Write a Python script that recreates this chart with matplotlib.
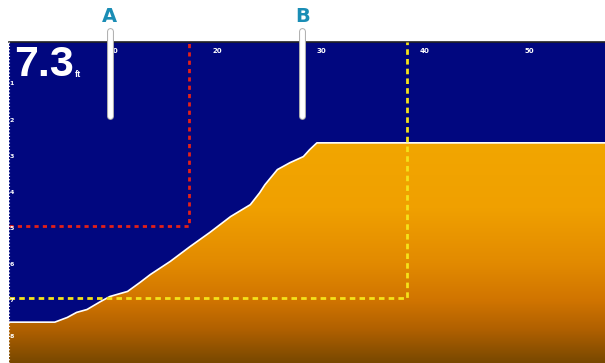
import matplotlib
matplotlib.use("Agg")
import matplotlib.pyplot as plt
import matplotlib.patheffects as pe
from matplotlib.colors import LinearSegmentedColormap
import numpy as np

# seabed profile (distance, depth in ft)
profile_x = [0, 4.4, 5.6, 6.5, 7.5, 8.8, 9.7, 11.4, 12.6, 13.6, 15.5, 17.4,
             19.3, 21.3, 23.2, 24.1, 24.6, 25.8, 27.0, 28.3, 28.9, 29.6, 58]
profile_depth = [7.67, 7.67, 7.54, 7.40, 7.32, 7.10, 6.96, 6.82, 6.57, 6.35,
                 5.99, 5.58, 5.19, 4.75, 4.42, 4.09, 3.87, 3.45, 3.26, 3.09,
                 2.90, 2.71, 2.71]

x_ticks = [10, 20, 30, 40, 50]
depth_ticks = [1, 2, 3, 4, 5, 6, 7, 8]

red_box = (17.3, 5.0)      # (range limit, depth limit)
yellow_box = (38.3, 7.0)

depth_reading = "7.3"
depth_unit = "ft"

pointer_labels = ["A", "B"]
pointer_x = [9.7, 28.2]

x_max = 57.3
depth_min, depth_max = -0.08, 8.8

water = "#01077f"
bottom_cmap = LinearSegmentedColormap.from_list(
    "bottom", [(0.0, "#f2a600"), (0.3, "#f0a000"), (0.55, "#e28a00"),
               (0.72, "#d07400"), (0.85, "#b06000"), (1.0, "#784800")])

fig = plt.figure(figsize=(6.05, 3.63), dpi=100)
fig.patch.set_facecolor("white")
ax = fig.add_axes([9 / 605, 0, 596 / 605, 321 / 363])
ax.set_facecolor(water)
ax.set_xlim(0, x_max)
ax.set_ylim(depth_max, depth_min)
ax.set_xticks([])
ax.set_yticks([])
for side in ["left", "right", "bottom"]:
    ax.spines[side].set_visible(False)
ax.spines["top"].set_color("#222222")
ax.spines["top"].set_linewidth(1.2)

# bottom gradient clipped to the seabed
grad = np.linspace(0, 1, 256).reshape(-1, 1)
top_d = min(profile_depth)
im = ax.imshow(grad, cmap=bottom_cmap, aspect="auto",
               extent=[0, x_max, depth_max, top_d], zorder=1)
poly = ax.fill_between(profile_x, profile_depth, depth_max + 1,
                       color="none", lw=0)
im.set_clip_path(poly.get_paths()[0], transform=ax.transData)
ax.plot(profile_x, profile_depth, color="white", lw=1.2, zorder=3)

# range boxes
ax.plot([0, red_box[0], red_box[0]], [red_box[1], red_box[1], depth_min],
        color="#e32018", lw=2, dashes=(1.5, 1.5), zorder=4)
ax.plot([0, yellow_box[0], yellow_box[0]], [yellow_box[1], yellow_box[1], depth_min],
        color="#f4e21a", lw=2, dashes=(2, 1.5), zorder=4)

# scale labels
for t in x_ticks:
    ax.text(t, 0.17, str(t), color="white", fontsize=5, fontweight="bold",
            ha="center", va="center", zorder=5)
for d in depth_ticks:
    ax.text(0.03, d + 0.08, str(d), color="white", fontsize=4.5, fontweight="bold",
            ha="left", va="center", zorder=5)
ax.plot([0.02, 0.02], [depth_min, depth_max], color="white", lw=0.8,
        dashes=(1, 2), zorder=5)

# depth readout
ax.text(0.45, 0.86, depth_reading, color="white", fontsize=31, fontweight="bold",
        family="Liberation Sans", ha="left", va="baseline", zorder=6)
ax.text(6.35, 0.88, depth_unit, color="white", fontsize=6.5, fontweight="bold",
        family="Liberation Sans", ha="left", va="baseline", zorder=6)

# callout pointers
for lab, px in zip(pointer_labels, pointer_x):
    ax.plot([px, px], [-0.38, 1.97], color="white", lw=3.5,
            solid_capstyle="round", clip_on=False, zorder=7,
            path_effects=[pe.Stroke(linewidth=5, foreground="#b0b0b0"),
                          pe.Normal()])
    ax.text(px, -0.78, lab, color="#1a8db5", fontsize=14, fontweight="bold",
            ha="center", va="center", clip_on=False, zorder=7)

fig.savefig("out.png", dpi=100)
